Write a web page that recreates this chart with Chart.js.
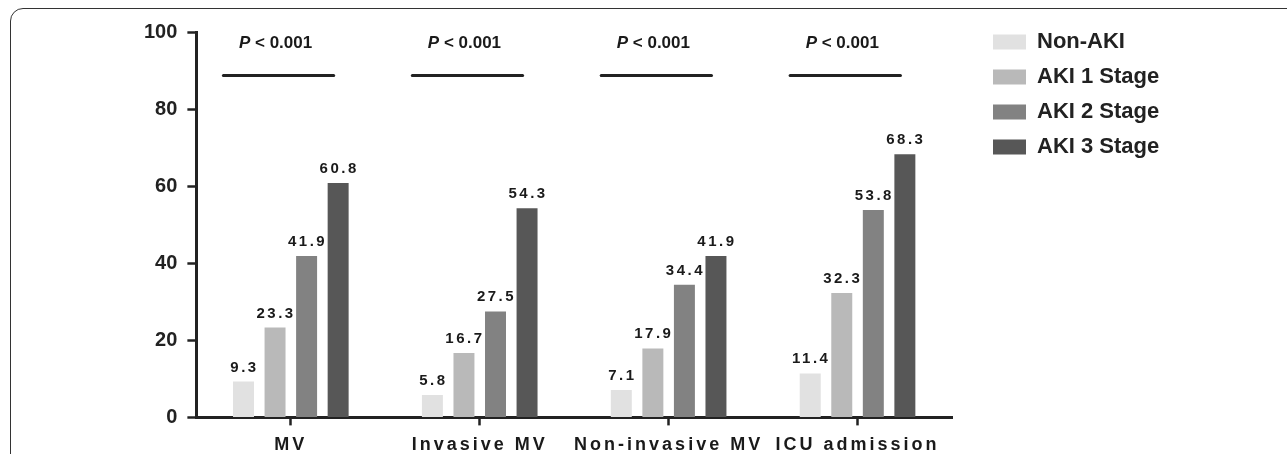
<!DOCTYPE html>
<html>
<head>
<meta charset="utf-8">
<script src="https://cdn.jsdelivr.net/npm/chart.js@4.4.1/dist/chart.umd.min.js"></script>
<style>
	html, body { margin: 0; padding: 0; background: #fff; overflow: hidden; }
	#wrap { position: relative; width: 1287px; height: 454px; overflow: hidden; }
	#frame { position: absolute; left: 10px; top: 8px; width: 1400px; height: 600px; border: 1.5px solid #333; border-radius: 13px; pointer-events: none; }
	canvas { position: absolute; left: 0; top: 0; }
</style>
</head>
<body>
<div id="wrap">
	<canvas id="miGrafico" width="1287" height="470"></canvas>
	<div id="frame"></div>
</div>
<script>
// data (%)
const categories = ["MV", "Invasive MV", "Non-invasive MV", "ICU admission"];
const seriesNames = ["Non-AKI", "AKI 1 Stage", "AKI 2 Stage", "AKI 3 Stage"];
const nonAki = [9.3, 5.8, 7.1, 11.4];
const aki1 = [23.3, 16.7, 17.9, 32.3];
const aki2 = [41.9, 27.5, 34.4, 53.8];
const aki3 = [60.8, 54.3, 41.9, 68.3];
const yTicks = [0, 20, 40, 60, 80, 100];
const pValues = ["< 0.001", "< 0.001", "< 0.001", "< 0.001"];
const pLineLevel = 88.7;
const pTextLevel = 97;

const colors = ["#e1e1e1", "#b9b9b9", "#828282", "#575757"];
const family = '"Liberation Sans", Arial, sans-serif';
Chart.defaults.font.family = family;

// numbers above bars
const valueLabels = {
	id: "valueLabels",
	afterDatasetsDraw(chart) {
		const ctx = chart.ctx;
		ctx.save();
		ctx.font = "bold 15px " + family;
		ctx.fillStyle = "#1a1a1a";
		ctx.textAlign = "center";
		ctx.textBaseline = "alphabetic";
		ctx.letterSpacing = "2.5px";
		chart.data.datasets.forEach((ds, i) => {
			chart.getDatasetMeta(i).data.forEach((bar, j) => {
				ctx.fillText(ds.data[j].toFixed(1), bar.x + 1, bar.y - 10);
			});
		});
		ctx.restore();
	},
};

// P < 0.001 brackets over each group
const pBrackets = {
	id: "pBrackets",
	afterDatasetsDraw(chart) {
		const { ctx, scales: { x, y } } = chart;
		const yLine = y.getPixelForValue(pLineLevel);
		const yText = y.getPixelForValue(pTextLevel);
		ctx.save();
		categories.forEach((c, i) => {
			const x1 = x.getPixelForValue(i - 0.357);
			const x2 = x.getPixelForValue(i + 0.227);
			ctx.strokeStyle = "#222";
			ctx.lineWidth = 3;
			ctx.lineCap = "round";
			ctx.beginPath();
			ctx.moveTo(x1, yLine);
			ctx.lineTo(x2, yLine);
			ctx.stroke();

			ctx.fillStyle = "#1a1a1a";
			ctx.textBaseline = "middle";
			ctx.textAlign = "left";
			ctx.font = "italic bold 17px " + family;
			const wP = ctx.measureText("P").width;
			ctx.font = "bold 17px " + family;
			const rest = " " + pValues[i];
			const wRest = ctx.measureText(rest).width;
			const start = (x1 + x2) / 2 - 3 - (wP + wRest) / 2;
			ctx.font = "italic bold 17px " + family;
			ctx.fillText("P", start, yText);
			ctx.font = "bold 17px " + family;
			ctx.fillText(rest, start + wP, yText);
		});
		ctx.restore();
	},
};

// legend placement beside the plot
const legendPlace = {
	id: "legendPlace",
	beforeInit(chart) {
		const legend = chart.legend;
		const fit = legend.fit;
		legend.fit = function () {
			fit.call(this);
			this.width = 335;
		};
	},
	afterLayout(chart) {
		chart.legend.left = chart.chartArea.right + 28;
		chart.legend.top = chart.chartArea.top - 14;
	},
};

// wide letter spacing on the category names
const spacedLabels = {
	id: "spacedLabels",
	beforeDraw(chart) {
		const xs = chart.scales.x;
		if (xs.spaced) return;
		const draw = xs.drawLabels;
		xs.drawLabels = function (area) {
			this.ctx.save();
			this.ctx.letterSpacing = "3px";
			draw.call(this, area);
			this.ctx.restore();
		};
		xs.spaced = true;
	},
};

function initGrafico() {
	const ctx = document.getElementById("miGrafico");
	const series = [nonAki, aki1, aki2, aki3];

	new Chart(ctx, {
		type: "bar",
		data: {
			labels: categories,
			datasets: series.map((d, i) => ({
				label: seriesNames[i],
				data: d,
				backgroundColor: colors[i],
				borderWidth: 0,
				categoryPercentage: 0.668,
				barPercentage: 0.665,
			})),
		},
		options: {
			responsive: false,
			animation: false,
			devicePixelRatio: 1,
			layout: { padding: { left: 134, top: 32, right: 0, bottom: 5 } },
			plugins: {
				legend: {
					position: "right",
					align: "start",
					labels: {
						boxWidth: 33,
						boxHeight: 15,
						padding: 13,
						color: "#222",
						font: { size: 22, weight: "bold" },
					},
				},
				tooltip: { enabled: false },
			},
			scales: {
				x: {
					offset: true,
					grid: { offset: false, drawOnChartArea: false, tickLength: 8, tickWidth: 2.5, tickColor: "#222" },
					border: { color: "#222", width: 3 },
					ticks: { font: { size: 18, weight: "bold" }, color: "#1a1a1a", padding: 9, autoSkip: false, maxRotation: 0 },
				},
				y: {
					min: 0,
					max: 100,
					afterBuildTicks: (axis) => {
						axis.ticks = yTicks.map((v) => ({ value: v }));
					},
					grid: { drawOnChartArea: false, tickLength: 9, tickWidth: 2.5, tickColor: "#222" },
					border: { color: "#222", width: 3 },
					ticks: { font: { size: 20, weight: "bold" }, color: "#222", padding: 10 },
				},
			},
		},
		plugins: [valueLabels, pBrackets, legendPlace, spacedLabels],
	});
}

initGrafico();
</script>
</body>
</html>
